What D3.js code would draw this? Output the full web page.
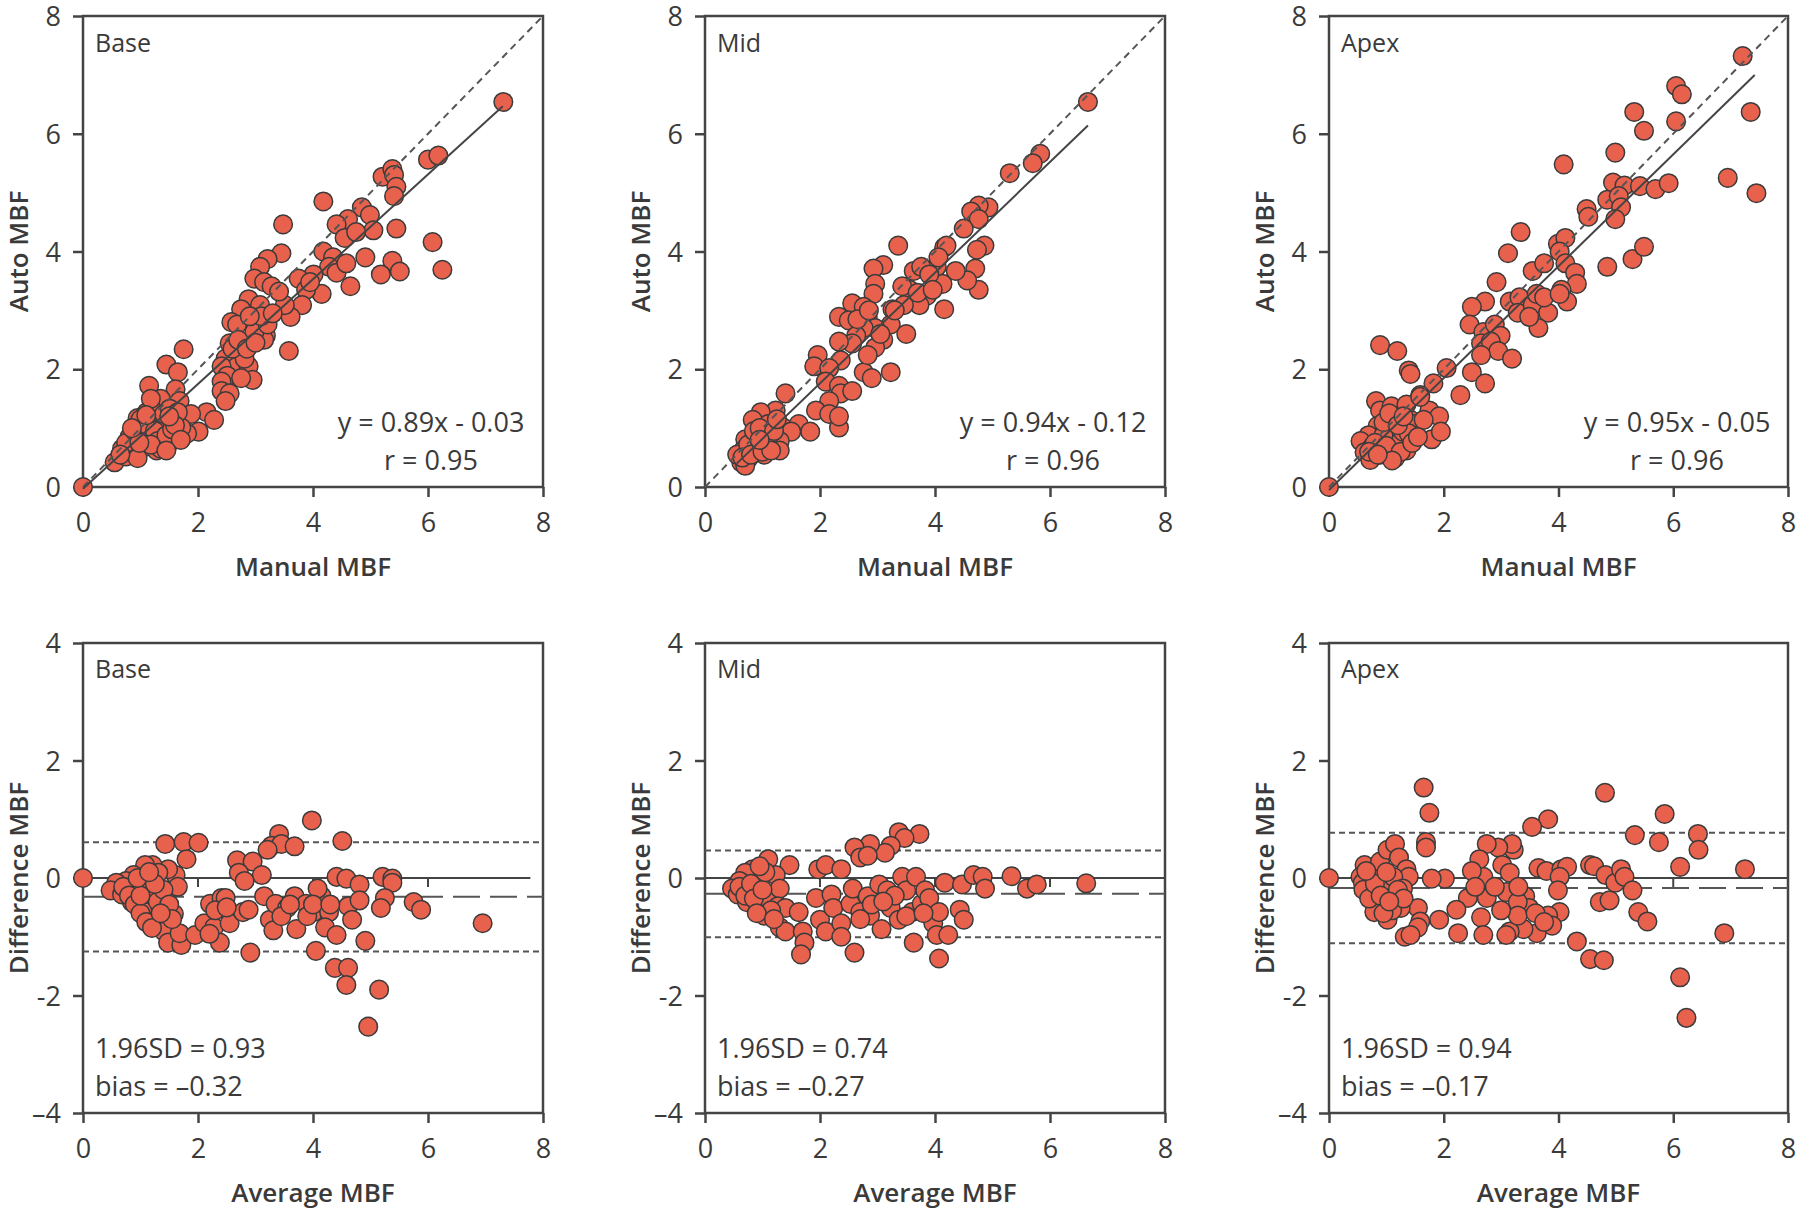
<!DOCTYPE html>
<html><head><meta charset="utf-8">
<script src="https://cdn.jsdelivr.net/npm/d3@7"></script>
<style>
html,body{margin:0;padding:0;background:#fff;}
svg text{font-family:"Open Sans","Noto Sans",sans-serif;fill:#3a3a3a;}
</style></head>
<body><svg id="chart" width="1800" height="1212"></svg>
<script>
// ---------- DATA ----------
const regionNames = ["Base", "Mid", "Apex"];
const axisTicksScatter = [0, 2, 4, 6, 8];
const axisTicksDiffY = [-4, -2, 0, 2, 4];
const tickLabelsDiffY = ["\u20134", "-2", "0", "2", "4"];
const equationTexts = ["y = 0.89x - 0.03", "y = 0.94x - 0.12", "y = 0.95x - 0.05"];
const rTexts = ["r = 0.95", "r = 0.96", "r = 0.96"];
const regSlopes = [0.89, 0.94, 0.95];
const regIntercepts = [-0.03, -0.12, -0.05];
const regXStart = [0, 0.55, 0];
const regXEnd = [7.3, 6.66, 7.42];
const sdTexts = ["1.96SD = 0.93", "1.96SD = 0.74", "1.96SD = 0.94"];
const biasTexts = ["bias = \u20130.32", "bias = \u20130.27", "bias = \u20130.17"];
const biasValues = [-0.32, -0.27, -0.17];
const sd196Values = [0.93, 0.74, 0.94];
const zeroLineEnd = [7.78, 8, 8];

// Scatter: [Manual MBF, Auto MBF]
const baseScatter = [
 [0,0],[7.31,6.54],[6.0,5.56],[6.18,5.63],[5.21,5.27],[5.38,5.4],[5.41,5.3],[5.45,5.1],[5.41,4.94],
 [4.18,4.85],[4.85,4.75],[4.99,4.62],[5.05,4.36],[5.45,4.39],[4.61,4.55],[4.41,4.46],[4.55,4.23],[4.75,4.33],
 [6.08,4.16],[6.25,3.69],[5.38,3.84],[5.51,3.66],[5.18,3.61],[4.91,3.9],[4.65,3.41],
 [4.18,4.0],[4.35,3.9],[4.28,3.74],[4.41,3.64],[4.15,3.28],[4.58,3.8],[4.01,3.61],
 [3.48,4.46],[3.45,3.97],[3.21,3.87],[3.08,3.74],[2.98,3.54],[3.15,3.48],[3.28,3.41],
 [3.75,3.54],[3.88,3.35],[3.81,3.09],[3.61,2.89],[3.51,3.09],[3.41,3.32],[3.95,3.48],[3.58,2.31],
 [2.88,3.19],[2.75,3.02],[2.58,2.8],[2.68,2.76],[3.08,3.09],[3.18,2.57],[3.15,2.5],[2.98,2.63],[3.21,2.76],
 [2.55,2.44],[2.61,2.28],[2.48,2.18],[2.68,2.05],[2.88,2.05],[2.95,1.82],[2.41,2.05],[2.51,1.89],[2.41,1.79],
 [2.41,1.63],[2.55,1.59],[2.48,1.46],[2.75,1.85],[2.81,2.18],
 [2.6,2.35],[2.7,2.5],[2.85,2.35],[3.0,2.45],[3.1,2.9],[2.9,2.9],[3.3,2.95],
 [1.75,2.34],[1.45,2.08],[1.65,1.95],[1.15,1.72],[1.61,1.66],[1.35,1.5],[1.68,1.46],
 [2.15,1.27],[2.28,1.14],[1.88,1.24],[2.01,0.94],[1.81,0.91],
 [0.55,0.42],[0.75,0.52],[0.85,0.75],[1.01,0.88],[0.95,1.17],[1.11,1.27],[1.21,1.3],[1.28,1.11],[1.35,0.94],
 [1.41,1.04],[1.21,0.81],[1.08,0.68],[0.88,0.59],[1.48,0.72],[1.61,0.85],[1.71,1.01],[1.55,1.14],[1.41,1.24],
 [1.28,0.62],[0.68,0.65],[0.81,0.85],[1.05,1.01],[1.18,1.5],[1.51,1.33],[1.35,0.65],[0.95,0.49],[0.75,0.75],[1.65,1.27],
 [0.9,0.95],[1.0,1.15],[1.12,1.05],[1.25,0.95],[1.3,0.78],[1.45,0.88],[1.55,0.98],[1.18,0.72],[0.98,0.75],
 [0.65,0.55],[1.6,1.05],[1.7,0.8],[1.45,0.62],[0.85,1.0],[1.1,1.22],[1.5,1.2]
];
const midScatter = [
 [6.66,6.54],[5.83,5.66],[5.7,5.5],[5.3,5.33],
 [4.93,4.75],[4.76,4.78],[4.63,4.68],[4.76,4.55],[4.5,4.39],
 [4.86,4.1],[4.73,4.03],[4.7,3.71],[4.76,3.35],[4.56,3.51],[4.36,3.67],[4.16,4.07],[4.2,4.1],[4.03,3.74],
 [4.06,3.9],[4.16,3.02],[4.13,3.45],
 [3.36,4.1],[3.1,3.77],[2.93,3.71],[2.96,3.45],[2.93,3.28],
 [3.63,3.67],[3.76,3.74],[3.9,3.61],[3.86,3.25],[3.73,3.09],[3.56,3.35],[3.43,3.41],[3.46,3.09],[3.26,3.02],
 [3.23,2.76],[3.5,2.6],[3.7,3.3],[3.96,3.35],
 [2.56,3.12],[2.76,3.06],[2.33,2.89],[2.5,2.83],[2.83,2.89],[2.96,2.7],[2.76,2.7],[2.63,2.57],[2.56,2.44],
 [2.33,2.47],[3.1,2.5],[2.96,2.37],[2.65,2.85],[2.85,3.0],[3.05,2.6],[3.3,3.0],
 [1.96,2.24],[1.9,2.05],[2.36,2.15],[2.16,2.02],[2.1,1.79],[2.33,1.72],[2.76,1.95],[2.9,1.85],[3.23,1.95],[2.83,2.24],
 [2.36,1.59],[2.56,1.63],[2.16,1.46],[1.93,1.3],[2.16,1.24],[2.33,1.01],[2.33,1.2],
 [1.4,1.59],[1.23,1.3],[0.97,1.27],[0.83,1.14],[1.1,1.07],[1.36,1.01],[1.63,1.07],[1.83,0.94],[1.5,0.94],
 [0.9,0.88],[0.7,0.81],[0.66,0.62],[0.63,0.42],[0.76,0.49],[0.9,0.68],[1.03,0.55],[1.16,0.72],[1.3,0.78],
 [0.56,0.55],[0.83,0.62],[0.7,0.36],[1.1,0.85],[1.3,0.62],
 [0.75,0.72],[0.85,0.95],[0.95,1.0],[1.05,0.75],[1.2,0.95],[1.25,1.15],[0.65,0.5],[0.8,0.55],[1.0,0.6],[1.15,0.62],[0.95,0.8]
];
const apexScatter = [
 [0,0],[7.21,7.32],[6.05,6.81],[6.15,6.67],[7.35,6.37],[6.95,5.25],[7.45,4.99],
 [5.32,6.37],[5.49,6.05],[6.05,6.21],[4.99,5.68],[4.09,5.48],
 [4.95,5.17],[5.15,5.12],[5.42,5.11],[5.69,5.06],[5.92,5.16],[4.85,4.88],[5.05,4.94],[5.09,4.75],[4.99,4.55],
 [4.49,4.72],[4.52,4.59],[4.85,3.74],[5.29,3.87],[5.49,4.08],
 [3.99,4.13],[4.12,4.23],[4.02,4.0],[4.12,3.8],[4.29,3.64],[4.32,3.45],[4.05,3.35],[4.15,3.15],
 [3.34,4.33],[3.12,3.97],[3.55,3.67],[3.75,3.8],
 [2.92,3.48],[2.72,3.15],[2.49,3.06],[2.45,2.76],[2.69,2.63],[2.89,2.76],[2.99,2.57],[3.15,3.15],[3.32,3.22],
 [3.29,2.96],[3.55,3.09],[3.62,3.28],[3.82,2.96],[3.65,2.7],[3.49,2.89],[3.75,3.22],[4.02,3.28],
 [2.65,2.44],[2.82,2.47],[2.95,2.31],[3.19,2.18],[2.65,2.24],
 [2.49,1.95],[2.72,1.76],[2.29,1.56],[2.05,2.02],[1.82,1.76],[1.59,1.56],
 [0.89,2.41],[1.19,2.31],[1.39,1.98],[1.42,1.92],
 [0.82,1.46],[0.89,1.3],[1.09,1.37],[1.15,1.2],[0.85,1.04],[1.02,0.94],[0.69,0.88],[0.55,0.78],[0.75,0.68],
 [0.62,0.59],[0.72,0.46],[0.89,0.55],[1.09,0.62],[1.22,0.75],[1.29,0.94],[1.42,1.14],[1.35,1.4],[1.49,1.07],
 [1.39,0.91],[1.35,0.62],[1.15,0.49],[1.75,1.3],[1.92,1.2],[1.79,0.81],[1.95,0.94],[1.65,1.14],[1.59,1.53],[0.95,0.88],
 [0.8,0.75],[0.95,1.1],[1.05,1.25],[1.2,1.05],[1.3,1.2],[0.7,0.6],[1.0,0.7],[1.25,0.6],[1.1,0.45],[0.85,0.55],[1.45,0.75],[1.55,0.85]
];
// Bland-Altman: [Average MBF, Difference MBF]
const baseBA = [
 [0,0],[3.98,0.98],[4.51,0.63],[1.43,0.58],[1.75,0.61],[2.01,0.6],[1.8,0.32],
 [3.41,0.75],[3.28,0.55],[3.45,0.58],[3.68,0.54],[3.21,0.48],
 [2.68,0.3],[2.95,0.28],[3.11,0.05],[2.71,0.09],[2.81,-0.05],
 [1.61,0.05],[1.65,-0.15],[1.48,0.15],[1.21,0.22],[1.08,0.22],[1.31,0.09],[0.88,0.05],[0.75,-0.05],[0.58,-0.08],
 [0.48,-0.21],[0.68,-0.28],[0.85,-0.41],[0.98,-0.11],[1.21,-0.34],[1.08,-0.58],[1.28,-0.71],[1.41,-0.91],
 [1.48,-1.1],[1.71,-1.14],[1.68,-0.94],[1.58,-0.61],[1.35,-0.51],[1.15,-0.18],
 [0.7,-0.15],[0.8,-0.3],[0.9,-0.45],[1.0,-0.6],[1.1,-0.75],[1.2,-0.85],[1.3,-0.4],[1.4,-0.2],[1.5,-0.45],
 [1.55,-0.7],[1.0,-0.3],[1.25,-0.1],[0.95,0.0],[1.15,0.1],[1.35,-0.6],
 [1.95,-0.97],[2.11,-0.77],[2.28,-0.84],[2.38,-1.1],[2.21,-0.44],[2.41,-0.34],[2.48,-0.34],[2.55,-0.77],
 [2.78,-0.58],[2.88,-0.54],[2.91,-1.27],[2.3,-0.55],[2.5,-0.5],[2.2,-0.95],
 [3.15,-0.31],[3.25,-0.71],[3.35,-0.44],[3.31,-0.89],[3.55,-0.51],[3.71,-0.87],[3.68,-0.31],[3.88,-0.44],
 [4.01,-0.58],[4.15,-0.31],[4.08,-0.18],[4.28,-0.58],[4.21,-0.84],[4.05,-1.24],[4.41,-0.97],[4.41,0.02],
 [4.58,-0.01],[4.61,-0.48],[4.68,-0.71],[4.81,-0.11],[4.81,-0.38],[4.91,-1.07],
 [3.45,-0.65],[3.9,-0.65],[4.0,-0.45],[4.3,-0.45],[3.6,-0.45],
 [4.38,-1.53],[4.61,-1.53],[4.58,-1.82],[5.15,-1.9],[4.96,-2.53],
 [5.21,0.02],[5.38,-0.01],[5.38,-0.08],[5.25,-0.34],[5.18,-0.51],[5.75,-0.41],[5.88,-0.54],[6.95,-0.77]
];
const midBA = [
 [3.37,0.78],[3.73,0.75],[3.47,0.68],[3.23,0.55],[3.13,0.43],[2.87,0.58],[2.6,0.52],[2.7,0.35],[2.83,0.38],
 [1.97,0.15],[2.1,0.22],[2.37,0.15],[1.47,0.22],[1.1,0.32],[1.23,0.05],[0.9,-0.01],[0.83,0.15],[0.7,0.09],
 [0.6,-0.05],[0.47,-0.18],[0.57,-0.28],[0.77,-0.21],[0.73,-0.41],[0.93,-0.51],[1.03,-0.64],[1.13,-0.38],
 [1.3,-0.18],[1.27,-0.48],[1.4,-0.51],[1.3,-0.84],[1.4,-0.91],
 [0.6,-0.15],[0.7,-0.3],[0.8,-0.1],[0.85,-0.35],[1.0,-0.2],[1.05,0.1],[0.95,0.2],[1.15,-0.55],[0.9,-0.6],[1.2,-0.7],
 [1.63,-0.58],[1.7,-0.91],[1.73,-1.1],[1.67,-1.3],[1.93,-0.34],[2.0,-0.71],[2.1,-0.91],[2.2,-0.28],[2.23,-0.51],
 [2.37,-0.77],[2.37,-1.0],[2.53,-0.44],[2.57,-0.18],[2.6,-1.27],[2.7,-0.58],[2.83,-0.31],[2.87,-0.64],
 [3.03,-0.11],[3.07,-0.87],[3.17,-0.21],[3.23,-0.51],[3.37,-0.71],[3.43,0.02],[3.5,-0.21],[3.6,-0.58],
 [3.63,-1.1],[3.67,0.02],[3.77,-0.44],[3.83,-0.21],[3.9,-0.34],[3.97,-0.77],[4.07,-0.58],[4.03,-0.97],
 [4.07,-1.37],[4.23,-0.97],[4.17,-0.08],[4.47,-0.11],[4.43,-0.54],[4.5,-0.71],
 [2.9,-0.45],[3.3,-0.3],[3.5,-0.65],[3.8,-0.6],[2.7,-0.7],[3.1,-0.4],
 [4.67,0.05],[4.83,0.02],[4.87,-0.18],[5.33,0.03],[5.6,-0.18],[5.77,-0.11],[6.63,-0.09]
];
const apexBA = [
 [0,0],[1.65,1.54],[1.75,1.11],[1.69,0.61],[1.69,0.52],
 [4.81,1.45],[5.85,1.09],[3.82,1.0],[3.54,0.87],[5.33,0.73],[5.75,0.61],[6.43,0.75],[6.44,0.48],[6.12,0.19],
 [7.25,0.15],[6.89,-0.94],[6.12,-1.69],[6.23,-2.38],
 [4.55,0.22],[4.62,0.2],[4.32,-1.08],[4.55,-1.38],[4.79,-1.4],[4.72,-0.41],[4.89,-0.38],[4.82,0.05],
 [4.99,-0.08],[5.09,0.15],[5.15,0.02],[5.29,-0.21],[5.39,-0.58],[5.55,-0.74],
 [3.65,0.17],[3.79,0.12],[4.05,0.15],[4.15,0.19],[4.02,0.02],[3.99,-0.21],[4.02,-0.58],[3.82,-0.64],
 [3.89,-0.81],[3.62,-0.94],[3.39,-0.87],[3.42,-0.31],[3.49,-0.51],[3.22,0.48],[3.19,0.58],[2.95,0.52],
 [2.75,0.58],[3.02,0.22],[3.15,0.09],[3.09,-0.24],[3.29,-0.41],[3.15,-0.91],[3.09,-0.97],[3.29,-0.64],
 [2.69,0.02],[2.62,0.32],[2.49,0.12],[2.42,-0.34],[2.65,-0.67],[2.69,-0.97],[2.75,-0.34],[2.89,-0.15],
 [2.22,-0.54],[2.25,-0.94],[3.3,-0.15],[3.6,-0.6],[3.75,-0.75],[3.0,-0.55],[2.55,-0.15],
 [2.02,-0.01],[1.79,-0.01],[1.92,-0.71],[1.55,-0.51],[1.59,-0.74],[1.55,-0.84],[1.32,-1.0],[1.42,-0.97],
 [0.62,0.22],[0.75,0.09],[0.89,0.28],[1.02,0.48],[1.15,0.58],[1.22,0.35],[1.35,0.15],[1.39,0.02],[0.55,0.02],
 [0.59,-0.08],[0.69,-0.24],[0.82,-0.38],[0.89,-0.51],[1.02,-0.71],[1.15,-0.34],[1.25,-0.51],[0.99,-0.05],
 [1.12,0.02],[1.29,-0.18],[0.79,-0.58],
 [0.6,-0.2],[0.7,-0.35],[0.8,-0.1],[0.9,-0.3],[1.0,0.1],[1.1,-0.55],[1.2,-0.2],[1.3,-0.35],[0.65,0.12],[0.95,-0.6],[1.05,-0.4]
];
const scatterSets = [baseScatter, midScatter, apexScatter];
const baSets = [baseBA, midBA, apexBA];

// ---------- LAYOUT ----------
const cols = [{l:83, r:543}, {l:705, r:1165}, {l:1329, r:1788}];
const rowTop = {t:16, b:487};
const rowBot = {t:643, b:1113};
const INK = "#444";
const DOT_FILL = "#e8614d";
const DOT_STROKE = "#3b3b3b";

const svg = d3.select("#chart");

function frameAndAxes(g, x, y, yTickVals, yTickFmt, xTitle, yTitle, c, row) {
  const xa = d3.axisBottom(x).tickValues(axisTicksScatter).tickSize(10).tickPadding(12).tickFormat(d3.format("d"));
  const gx = g.append("g").attr("transform", `translate(0,${row.b})`).call(xa);
  const ya = d3.axisLeft(y).tickValues(yTickVals).tickSize(10).tickPadding(12).tickFormat(yTickFmt);
  const gy = g.append("g").attr("transform", `translate(${c.l},0)`).call(ya);
  [gx, gy].forEach(a => {
    a.select(".domain").remove();
    a.selectAll(".tick line").attr("stroke", INK).attr("stroke-width", 2.5);
    a.selectAll(".tick text").attr("font-size", 27).attr("fill", "#3a3a3a")
      .style("font-family", '"Open Sans","Noto Sans",sans-serif');
  });
  gx.selectAll(".tick text").attr("dy", null).attr("y", 45);
  gy.selectAll(".tick text").attr("dy", "0.36em");
  g.append("rect").attr("x", c.l).attr("y", row.t).attr("width", c.r - c.l).attr("height", row.b - row.t)
    .attr("fill", "none").attr("stroke", INK).attr("stroke-width", 2.5);
  g.append("text").attr("x", (c.l + c.r) / 2).attr("y", row.b + 89).attr("text-anchor", "middle")
    .attr("font-size", 26).attr("font-weight", 600).text(xTitle);
  g.append("text").attr("transform", `translate(${c.l - 55},${(row.t + row.b) / 2}) rotate(-90)`)
    .attr("text-anchor", "middle").attr("font-size", 26).attr("font-weight", 600).text(yTitle);
}

function dots(g, data, x, y) {
  g.append("g").selectAll("circle").data(data).join("circle")
    .attr("cx", d => x(d[0])).attr("cy", d => y(d[1])).attr("r", 9.3)
    .attr("fill", DOT_FILL).attr("stroke", DOT_STROKE).attr("stroke-width", 1.5);
}

cols.forEach((c, i) => {
  // ---- top: scatter ----
  const gT = svg.append("g");
  const x = d3.scaleLinear().domain([0, 8]).range([c.l, c.r]);
  const y = d3.scaleLinear().domain([0, 8]).range([rowTop.b, rowTop.t]);
  frameAndAxes(gT, x, y, axisTicksScatter, d3.format("d"), "Manual MBF", "Auto MBF", c, rowTop);
  dots(gT, scatterSets[i], x, y);
  gT.append("line").attr("x1", x(0)).attr("y1", y(0)).attr("x2", x(8)).attr("y2", y(8))
    .attr("stroke", "#555").attr("stroke-width", 2).attr("stroke-dasharray", "7,5");
  const f = v => regSlopes[i] * v + regIntercepts[i];
  gT.append("line").attr("x1", x(regXStart[i])).attr("y1", y(f(regXStart[i])))
    .attr("x2", x(regXEnd[i])).attr("y2", y(f(regXEnd[i])))
    .attr("stroke", "#444").attr("stroke-width", 2);
  gT.append("text").attr("x", c.l + 12).attr("y", rowTop.t + 36).attr("font-size", 25).text(regionNames[i]);
  gT.append("text").attr("x", c.l + 348).attr("y", rowTop.t + 416).attr("text-anchor", "middle")
    .attr("font-size", 27).text(equationTexts[i]);
  gT.append("text").attr("x", c.l + 348).attr("y", rowTop.t + 454).attr("text-anchor", "middle")
    .attr("font-size", 27).text(rTexts[i]);

  // ---- bottom: Bland-Altman ----
  const gB = svg.append("g");
  const xb = d3.scaleLinear().domain([0, 8]).range([c.l, c.r]);
  const yb = d3.scaleLinear().domain([-4, 4]).range([rowBot.b, rowBot.t]);
  frameAndAxes(gB, xb, yb, axisTicksDiffY, (d, k) => tickLabelsDiffY[k], "Average MBF", "Difference MBF", c, rowBot);
  const bias = biasValues[i], sd = sd196Values[i];
  gB.append("line").attr("x1", xb(0)).attr("x2", xb(zeroLineEnd[i])).attr("y1", yb(0)).attr("y2", yb(0))
    .attr("stroke", "#444").attr("stroke-width", 2);
  gB.selectAll(".zt").data([2, 4, 6]).join("line").attr("class", "zt")
    .attr("x1", d => xb(d)).attr("x2", d => xb(d)).attr("y1", yb(0)).attr("y2", yb(0) + 9)
    .attr("stroke", "#444").attr("stroke-width", 2);
  gB.append("line").attr("x1", xb(0)).attr("x2", xb(8)).attr("y1", yb(bias)).attr("y2", yb(bias))
    .attr("stroke", "#555").attr("stroke-width", 2).attr("stroke-dasharray", "27,10");
  [bias + sd, bias - sd].forEach(v => {
    gB.append("line").attr("x1", xb(0)).attr("x2", xb(8)).attr("y1", yb(v)).attr("y2", yb(v))
      .attr("stroke", "#555").attr("stroke-width", 2).attr("stroke-dasharray", "6,4");
  });
  dots(gB, baSets[i], xb, yb);
  gB.append("text").attr("x", c.l + 12).attr("y", rowBot.t + 35).attr("font-size", 25).text(regionNames[i]);
  gB.append("text").attr("x", c.l + 12).attr("y", rowBot.t + 415).attr("font-size", 27).text(sdTexts[i]);
  gB.append("text").attr("x", c.l + 12).attr("y", rowBot.t + 453).attr("font-size", 27).text(biasTexts[i]);
});
</script></body></html>
